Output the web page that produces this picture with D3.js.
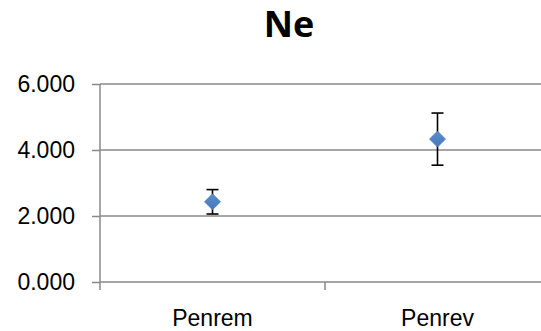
<!DOCTYPE html>
<html>
<head>
<meta charset="utf-8">
<script src="https://cdn.jsdelivr.net/npm/d3@7"></script>
<style>
  html, body { margin: 0; padding: 0; background: #fff; overflow: hidden; }
  svg { display: block; font-family: "Open Sans", "Noto Sans", sans-serif; }
</style>
</head>
<body>
<svg id="chart" width="541" height="331"></svg>
<script>
// Chart data
const title = "Ne";
const categories = ["Penrem", "Penrev"];
const means = [2.43, 4.33];
const errors = [0.37, 0.79];
const yTicks = [0, 2, 4, 6];
const yTickLabels = ["0.000", "2.000", "4.000", "6.000"];

const svg = d3.select("#chart");
const plot = { left: 100, right: 550, top: 84, bottom: 282 };

const x = d3.scaleBand().domain(categories).range([plot.left, plot.right]).padding(0);
const y = d3.scaleLinear().domain([0, 6]).range([plot.bottom, plot.top]);

const gridColor = "#898989";

// Horizontal gridlines
svg.append("g")
  .selectAll("line")
  .data(yTicks.filter(d => d > 0))
  .join("line")
  .attr("x1", plot.left).attr("x2", plot.right)
  .attr("y1", d => y(d)).attr("y2", d => y(d))
  .attr("stroke", gridColor).attr("stroke-width", 1.5);

// Y axis
const yAxis = svg.append("g")
  .attr("transform", `translate(${plot.left},0)`)
  .call(d3.axisLeft(y).tickValues(yTicks).tickFormat((d, i) => yTickLabels[i]).tickSize(8).tickPadding(17));
yAxis.select(".domain").remove();
yAxis.selectAll(".tick line").attr("stroke", gridColor).attr("stroke-width", 1.5);
yAxis.selectAll(".tick text").attr("font-size", 23).attr("fill", "#000");
yAxis.append("line")
  .attr("x1", 0).attr("x2", 0)
  .attr("y1", plot.top).attr("y2", plot.bottom + 8)
  .attr("stroke", gridColor).attr("stroke-width", 1.5);

// X axis with ticks at category boundaries
const xAxis = svg.append("g")
  .attr("transform", `translate(0,${plot.bottom})`)
  .call(d3.axisBottom(x).tickSize(0).tickPadding(28));
xAxis.select(".domain").attr("stroke", gridColor).attr("stroke-width", 1.5)
  .attr("d", `M${plot.left},0H${plot.right}`);
xAxis.selectAll(".tick text").attr("font-size", 23).attr("fill", "#000");
xAxis.selectAll(".boundary")
  .data(categories.slice(1))
  .join("line")
  .attr("class", "boundary")
  .attr("x1", d => x(d)).attr("x2", d => x(d))
  .attr("y1", 0).attr("y2", 8)
  .attr("stroke", gridColor).attr("stroke-width", 1.5);

// Error bars
const cx = d => x(d) + x.bandwidth() / 2;
const eb = svg.append("g").attr("stroke", "#000").attr("stroke-width", 1.6);
categories.forEach((c, i) => {
  const top = y(means[i] + errors[i]);
  const bot = y(means[i] - errors[i]);
  eb.append("line").attr("x1", cx(c)).attr("x2", cx(c)).attr("y1", top).attr("y2", bot);
  eb.append("line").attr("x1", cx(c) - 6).attr("x2", cx(c) + 6).attr("y1", top).attr("y2", top);
  eb.append("line").attr("x1", cx(c) - 6).attr("x2", cx(c) + 6).attr("y1", bot).attr("y2", bot);
});

// Diamond markers
const defs = svg.append("defs");
const grad = defs.append("linearGradient").attr("id", "mk").attr("x1", 0).attr("y1", 0).attr("x2", 0).attr("y2", 1);
grad.append("stop").attr("offset", "0%").attr("stop-color", "#5b8fcf");
grad.append("stop").attr("offset", "100%").attr("stop-color", "#4577b8");

svg.append("g")
  .selectAll("path")
  .data(categories)
  .join("path")
  .attr("transform", (d, i) => `translate(${cx(d)},${y(means[i])})`)
  .attr("d", "M0,-8L8,0L0,8L-8,0Z")
  .attr("fill", "url(#mk)")
  .attr("stroke", "#4a7ebb").attr("stroke-width", 0.75);

// Title
svg.append("text")
  .attr("x", 289).attr("y", 37)
  .attr("text-anchor", "middle")
  .attr("font-size", 36).attr("font-weight", "bold")
  .attr("fill", "#000")
  .text(title);
</script>
</body>
</html>
